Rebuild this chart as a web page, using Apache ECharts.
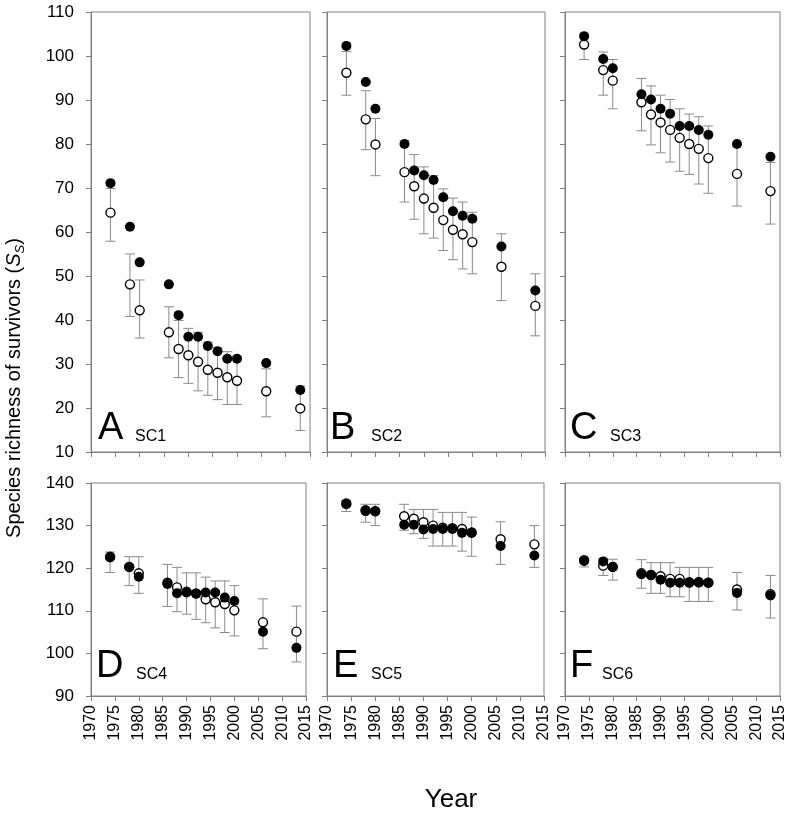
<!DOCTYPE html>
<html><head><meta charset="utf-8">
<script src="https://cdn.jsdelivr.net/npm/echarts@6/dist/echarts.min.js"></script>
<style>html,body{margin:0;padding:0;background:#fff}#c{width:793px;height:819px}</style>
</head><body><div id="c"></div>
<script>
const years = [1974,1978,1980,1986,1988,1990,1992,1994,1996,1998,2000,2006,2013];
const xTicks = [1970,1975,1980,1985,1990,1995,2000,2005,2010,2015];
const topTicks = [10,20,30,40,50,60,70,80,90,100,110];
const bottomTicks = [90,100,110,120,130,140];

const A_filled = [71.1,61.2,53.1,48.1,41.1,36.2,36.2,34.1,32.9,31.2,31.2,30.2,24.1];
const A_open   = [64.4,48.1,42.2,37.2,33.4,32.0,30.5,28.7,28.0,27.0,26.2,23.8,19.9];
const A_lo     = [57.9,40.8,35.9,31.4,26.9,25.6,23.9,22.9,21.9,20.8,20.8,18.0,14.9];
const A_hi     = [69.9,55.0,49.1,43.0,39.9,38.1,37.2,35.0,33.7,32.8,31.7,28.9,25.0];

const B_filled = [102.3,94.1,88.0,80.0,74.0,72.9,71.8,67.9,64.7,63.7,63.0,56.7,46.7];
const B_open   = [96.2,85.6,79.9,73.6,70.4,67.6,65.5,62.7,60.5,59.5,57.7,52.1,43.2];
const B_lo     = [91.1,78.7,72.8,66.8,62.9,59.6,58.6,55.8,53.7,51.6,50.5,44.4,36.4];
const B_hi     = [101.0,92.1,85.8,80.8,77.6,74.8,72.8,69.8,67.7,66.8,64.5,59.6,50.5];

const C_filled = [104.5,99.3,97.2,91.3,90.1,88.0,86.9,84.1,84.1,83.2,82.1,80.0,77.1];
const C_open   = [102.6,96.8,94.4,89.5,86.7,84.9,83.2,81.4,80.0,78.9,76.8,73.2,69.3];
const C_lo     = [99.2,91.1,88.0,83.0,79.8,78.0,75.9,73.8,73.1,70.9,68.8,65.9,61.8];
const C_hi     = [105.2,100.9,99.2,94.9,93.2,91.1,90.1,88.0,86.8,86.2,84.1,79.8,75.8];

const D_filled = [122.5,120.3,118.0,116.3,114.1,114.3,114.0,114.3,114.3,113.1,112.3,105.1,101.3];
const D_open   = [122.7,120.3,118.8,116.6,115.5,114.5,114.1,112.7,112.0,111.6,110.1,107.3,105.1];
const D_lo     = [119.0,115.9,114.1,111.0,109.8,109.2,108.0,107.2,106.0,104.9,104.1,101.1,98.0];
const D_hi     = [123.8,122.7,122.7,120.9,120.2,118.9,118.9,117.9,117.0,117.0,115.9,112.8,111.1];

const E_filled = [135.0,133.4,133.3,130.2,130.2,129.1,129.2,129.2,129.2,128.3,128.3,125.2,123.0];
const E_open   = [135.2,133.6,133.4,132.2,131.6,130.8,130.0,129.5,129.4,129.2,128.4,126.8,125.6];
const E_lo     = [133.3,130.8,130.0,128.9,128.1,127.0,125.2,125.2,125.2,124.0,122.8,120.9,120.2];
const E_hi     = [135.9,135.0,135.0,135.0,133.8,133.8,133.8,133.1,133.1,133.1,132.0,130.9,130.0];

const F_filled = [121.7,121.6,120.3,118.6,118.4,117.3,116.6,116.6,116.6,116.7,116.6,114.2,113.6];
const F_open   = [121.9,120.6,120.3,118.8,118.4,118.1,117.5,117.5,116.7,116.7,116.6,115.0,113.9];
const F_lo     = [120.3,118.3,117.2,115.3,114.1,114.1,113.3,113.3,112.2,112.2,112.2,110.2,108.3];
const F_hi     = [122.1,122.2,122.1,122.0,121.3,121.3,121.3,120.2,120.2,120.2,120.2,119.0,118.3];

const panelLetters = ['A','B','C','D','E','F'];
const panelNames = ['SC1','SC2','SC3','SC4','SC5','SC6'];

const FONT = "'Liberation Sans', Arial, sans-serif";
const GRAY = '#808080';

const panels = [
  {filled:A_filled, open:A_open, lo:A_lo, hi:A_hi, row:0},
  {filled:B_filled, open:B_open, lo:B_lo, hi:B_hi, row:0},
  {filled:C_filled, open:C_open, lo:C_lo, hi:C_hi, row:0},
  {filled:D_filled, open:D_open, lo:D_lo, hi:D_hi, row:1},
  {filled:E_filled, open:E_open, lo:E_lo, hi:E_hi, row:1},
  {filled:F_filled, open:F_open, lo:F_lo, hi:F_hi, row:1}
];
const layout = [
  {left:91, top:12, width:219, height:440},
  {left:327, top:12, width:218, height:440},
  {left:565, top:12, width:215, height:440},
  {left:91, top:483, width:215, height:213},
  {left:327, top:483, width:217, height:213},
  {left:565, top:483, width:215, height:213}
];
const letterPos = [
  {lx:98, sx:135, ly:429, sy:436.5},
  {lx:330, sx:371, ly:429, sy:436.5},
  {lx:570, sx:610, ly:429, sy:436.5},
  {lx:96, sx:136, ly:667, sy:675},
  {lx:333, sx:371, ly:667, sy:675},
  {lx:570, sx:602, ly:667, sy:675}
];

function renderErr(params, api) {
  const x = api.value(0), lo = api.value(1), hi = api.value(2);
  const pHi = api.coord([x, hi]), pLo = api.coord([x, lo]);
  const w = 5;
  const style = {stroke:'#8a8a8a', lineWidth:1, fill:null};
  return {type:'group', children:[
    {type:'line', shape:{x1:pHi[0], y1:pHi[1], x2:pLo[0], y2:pLo[1]}, style:style},
    {type:'line', shape:{x1:pHi[0]-w, y1:pHi[1], x2:pHi[0]+w, y2:pHi[1]}, style:style},
    {type:'line', shape:{x1:pLo[0]-w, y1:pLo[1], x2:pLo[0]+w, y2:pLo[1]}, style:style}
  ]};
}

const grid = [], xAxis = [], yAxis = [], series = [], graphic = [];
panels.forEach((p, i) => {
  const L = layout[i];
  grid.push({left:L.left, top:L.top, width:L.width, height:L.height, show:true,
    borderColor:GRAY, borderWidth:1, backgroundColor:'#fff'});
  const ticksY = p.row === 0 ? topTicks : bottomTicks;
  xAxis.push({type:'value', gridIndex:i, min:xTicks[0], max:xTicks[xTicks.length-1], interval:5,
    axisLine:{show:true, onZero:false, lineStyle:{color:GRAY, width:1}},
    axisTick:{show:true, length:5, lineStyle:{color:GRAY}},
    splitLine:{show:false},
    axisLabel:{show:p.row === 1, rotate:90, fontSize:16, color:'#000', margin:9, fontFamily:FONT,
      showMinLabel:true, showMaxLabel:true, formatter:(v) => String(v)}});
  yAxis.push({type:'value', gridIndex:i, min:ticksY[0], max:ticksY[ticksY.length-1], interval:10,
    axisLine:{show:true, onZero:false, lineStyle:{color:GRAY, width:1}},
    axisTick:{show:true, length:5, lineStyle:{color:GRAY}},
    splitLine:{show:false},
    axisLabel:{show:(i === 0 || i === 3), fontSize:17, color:'#000', margin:17, fontFamily:FONT,
      showMinLabel:true, showMaxLabel:true, formatter:(v) => String(v)}});
  series.push({type:'custom', xAxisIndex:i, yAxisIndex:i, renderItem:renderErr, z:1,
    encode:{x:0, y:[1,2]}, silent:true,
    data:years.map((y, j) => [y, p.lo[j], p.hi[j]])});
  series.push({type:'scatter', xAxisIndex:i, yAxisIndex:i, symbol:'circle', symbolSize:9, z:2,
    itemStyle:{color:'#fff', borderColor:'#000', borderWidth:1.4, opacity:1},
    data:years.map((y, j) => [y, p.open[j]])});
  series.push({type:'scatter', xAxisIndex:i, yAxisIndex:i, symbol:'circle', symbolSize:10, z:3,
    itemStyle:{color:'#000', opacity:1},
    data:years.map((y, j) => [y, p.filled[j]])});
  const lp = letterPos[i];
  graphic.push({type:'text', x:lp.lx, y:lp.ly, z:10, style:{text:panelLetters[i], fontSize:38,
    fontFamily:FONT, fill:'#000', align:'left', verticalAlign:'middle'}});
  graphic.push({type:'text', x:lp.sx, y:lp.sy, z:10, style:{text:panelNames[i], fontSize:16,
    fontFamily:FONT, fill:'#000', align:'left', verticalAlign:'middle'}});
});

graphic.push({type:'text', x:14, y:388, rotation:Math.PI/2, z:10,
  style:{text:'Species richness of survivors ({i|S}{sub|S})', fontSize:20, fontFamily:FONT,
    fill:'#000', align:'center', verticalAlign:'middle', lineHeight:26,
    rich:{i:{fontStyle:'italic', fontSize:20, fontFamily:FONT, lineHeight:26},
          sub:{fontStyle:'italic', fontSize:13, fontFamily:FONT, verticalAlign:'bottom', lineHeight:14}}}});
graphic.push({type:'text', x:451, y:800, z:10, style:{text:'Year', fontSize:26, fontFamily:FONT,
  fill:'#000', align:'center', verticalAlign:'middle'}});

const chart = echarts.init(document.getElementById('c'), null, {renderer:'canvas'});
chart.setOption({animation:false, backgroundColor:'#fff', grid, xAxis, yAxis, series, graphic});
</script></body></html>
